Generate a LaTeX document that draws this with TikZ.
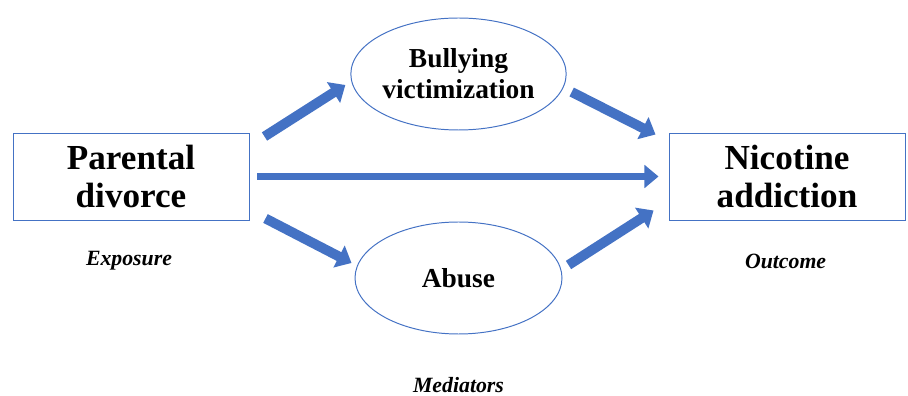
\documentclass[tikz,border=0pt]{standalone}
\usepackage{fontspec}
\setmainfont{Liberation Serif}
\usetikzlibrary{arrows.meta,shapes.geometric}
\definecolor{officeblue}{RGB}{68,114,196}
\begin{document}
\begin{tikzpicture}[every text node part/.style={align=center},
    varbox/.style={draw=officeblue, line width=0.7pt, minimum width=5.9cm, minimum height=2.175cm, inner sep=0pt, font=\fontsize{25}{27}\selectfont\bfseries},
    medbox/.style={ellipse, draw=officeblue, line width=0.7pt, minimum width=5.175cm, minimum height=2.8cm, inner sep=0pt, font=\fontsize{19.5}{22}\selectfont\bfseries},
    rolelabel/.style={font=\fontsize{15.5}{18}\selectfont\bfseries\itshape},
    bigarrow/.style={draw=officeblue, line width=7pt, -{Triangle[length=10pt,width=17pt]}},
    midarrow/.style={draw=officeblue, line width=5.5pt, -{Triangle[length=10pt,width=16pt]}}]
            \useasboundingbox (0,0) rectangle (22.7,9.875);
            \node[varbox] (div) at(3.275,5.4625) {Parental\\divorce};
            \node[varbox] (nic) at(19.675,5.4625) {Nicotine\\addiction};
            \node[medbox] (bul) at(11.4625,8.025) {Bullying\\victimization};
            \node[medbox] (abu) at(11.4625,2.925) {Abuse};

            \node[rolelabel] (exp) at(3.225,3.35) {Exposure};
            \node[rolelabel] (out) at(19.64,3.35) {Outcome};
            \node[rolelabel] (med) at(11.4625,0.25) {Mediators};

            \draw[bigarrow] ([xshift=0.375cm,yshift=-0.1cm]div.north east) -- ([xshift=-0.125cm,yshift=-0.275cm]bul.west);
            \draw[midarrow] ([xshift=0.2cm]div.east) -- ([xshift=-0.25cm]nic.west);
            \draw[bigarrow] ([xshift=0.4cm,yshift=0.05cm]div.south east) -- ([xshift=-0.075cm,yshift=0.375cm]abu.west);
            \draw[bigarrow] ([xshift=0.125cm,yshift=-0.45cm]bul.east) -- ([xshift=-0.325cm,yshift=-0.05cm]nic.north west);
            \draw[bigarrow] ([xshift=0.15cm,yshift=0.325cm]abu.east) -- ([xshift=-0.375cm,yshift=0.25cm]nic.south west);

        \end{tikzpicture}
\end{document}
